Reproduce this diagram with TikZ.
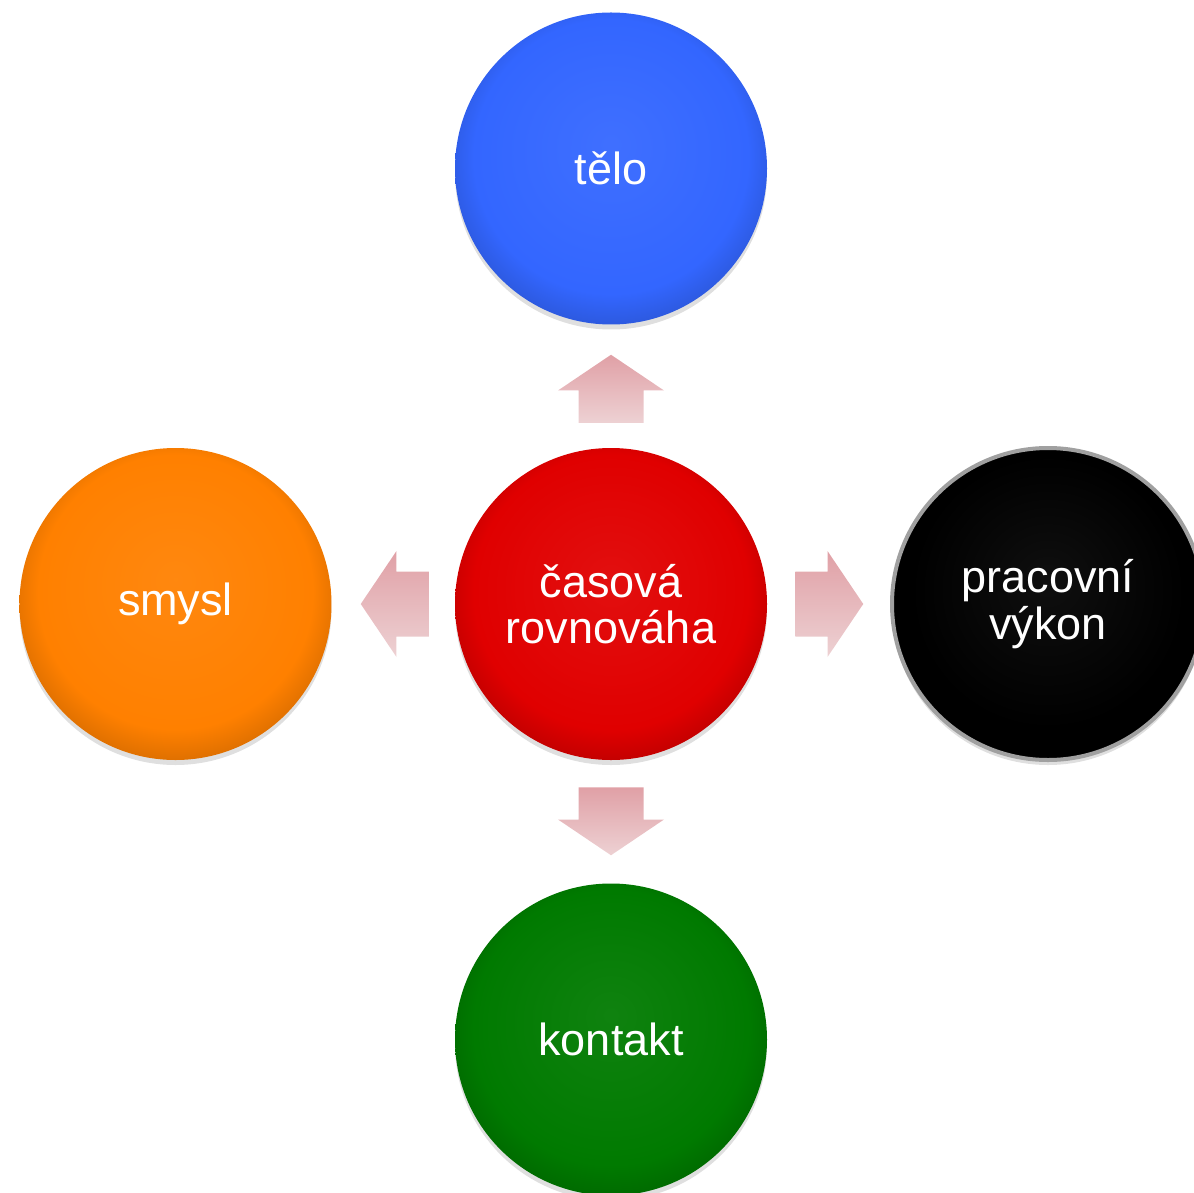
\documentclass[tikz,border=0pt]{standalone}
\usepackage{fontspec}
\setmainfont{Liberation Sans}
\usetikzlibrary{positioning,shapes.arrows,shadows,calc}
\definecolor{hubCol}{HTML}{E00000}
\definecolor{teloCol}{HTML}{3366FF}
\definecolor{smyslCol}{HTML}{FF8000}
\definecolor{kontaktCol}{HTML}{007A00}
\definecolor{rimCol}{HTML}{A0A0A0}
\definecolor{flowDark}{HTML}{E0A0A6}
\definecolor{flowLight}{HTML}{EDD1D3}
\colorlet{bevelCol}{red}
\pgfdeclareradialshading[bevelCol]{bevel}{\pgfpoint{0bp}{4bp}}{%
  color(0bp)=(bevelCol!94!white);color(22bp)=(bevelCol);
  color(30bp)=(bevelCol!78!black);color(35bp)=(bevelCol!48!black);
  color(42bp)=(bevelCol!40!black)}

\begin{document}
\begin{tikzpicture}[
    x=0.4pt, y=-0.4pt,
    font=\fontsize{18}{18.6}\selectfont,
    node distance=49pt,
    bevel/.code={\colorlet{bevelCol}{#1}\tikzset{shading=bevel}},
    disc/.style={circle, minimum size=124.8pt, inner sep=0pt, align=center,
      text=white, drop shadow={shadow xshift=0pt, shadow yshift=-2pt, opacity=.25}},
    rim/.style={draw=rimCol, line width=1.6pt},
    flow/.style={single arrow, anchor=tail, inner xsep=0pt, inner ysep=12.8pt,
      minimum height=27.2pt, single arrow head extend=8.2pt,
      single arrow tip angle=112, top color=flowDark, bottom color=flowLight},
  ]
\useasboundingbox (0,0) rectangle (1194,1193);

% Hub and the four circles round it
\node[disc, bevel=hubCol] (hub) at (611,604) {časová\\rovnováha};
\node[disc, bevel=teloCol, above=of hub] (telo) {tělo};
\node[disc, bevel=smyslCol, left=of hub] (smysl) {smysl};
\node[disc, bevel=black, rim, right=of hub] (vykon) {pracovní\\výkon};
\node[disc, bevel=kontaktCol, below=of hub] (kontakt) {kontakt};

% Gap middles, then the block arrows (tail half a length back)
\coordinate (gapN) at ($(hub.north)!0.5!(telo.south)$);
\coordinate (gapW) at ($(hub.west)!0.5!(smysl.east)$);
\coordinate (gapE) at ($(hub.east)!0.5!(vykon.west)$);
\coordinate (gapS) at ($(hub.south)!0.5!(kontakt.north)$);
\node[flow, rotate=90] (toTelo) at ($(gapN)+(0,37)$) {};
\node[flow, rotate=180] (toSmysl) at ($(gapW)+(36,0)$) {};
\node[flow] (toVykon) at ($(gapE)+(-34,0)$) {};
\node[flow, rotate=-90] (toKontakt) at ($(gapS)+(0,-35)$) {};

\end{tikzpicture}
\end{document}
